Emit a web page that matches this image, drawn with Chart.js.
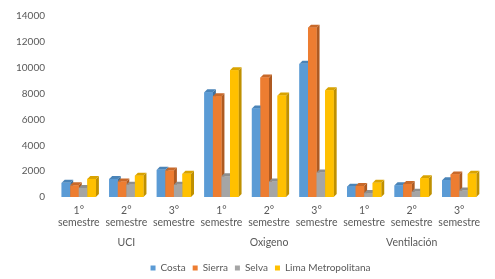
<!DOCTYPE html>
<html>
<head>
<meta charset="utf-8">
<script src="https://cdn.jsdelivr.net/npm/chart.js@4/dist/chart.umd.min.js"></script>
<style>
html,body{margin:0;padding:0;background:#fff;}
canvas{display:block;}
</style>
</head>
<body>
<canvas id="c" width="495" height="279"></canvas>
<script>
const categories = [["1°","semestre"],["2°","semestre"],["3°","semestre"],
                    ["1°","semestre"],["2°","semestre"],["3°","semestre"],
                    ["1°","semestre"],["2°","semestre"],["3°","semestre"]];
const groupLabels = ["", "UCI", "", "", "Oxigeno", "", "", "Ventilación", ""];
const seriesNames = ["Costa", "Sierra", "Selva", "Lima Metropolitana"];
const costa  = [1100, 1400, 2100, 8100, 6850, 10300, 800, 900, 1300];
const sierra = [900, 1200, 2050, 7800, 9250, 13100, 850, 1000, 1750];
const selva  = [700, 950, 950, 1600, 1200, 1900, 300, 400, 500];
const lima   = [1400, 1650, 1800, 9800, 7850, 8250, 1100, 1450, 1800];
const yTicks = [0, 2000, 4000, 6000, 8000, 10000, 12000, 14000];

const colors = ["#5B9BD5", "#ED7D31", "#A5A5A5", "#FFC000"];
const sideColors = ["#41719C", "#AE5A21", "#7C7C7C", "#BF9000"];
const topColors = ["#4A84B8", "#C8692A", "#8E8E8E", "#D9A300"];

const FONT = "Lato, 'Liberation Sans', sans-serif";
const TXT = "#595959";

const bars3d = {
  id: 'bars3d',
  afterDatasetsDraw(chart) {
    const ctx = chart.ctx;
    const dx = 3, dy = 3;
    const metas = chart.data.datasets.map((d, i) => chart.getDatasetMeta(i));
    const n = chart.data.labels.length;
    ctx.save();
    for (let j = 0; j < n; j++) {
      for (let i = 0; i < metas.length; i++) {
        const bar = metas[i].data[j];
        const p = bar.getProps(['x', 'y', 'base', 'width'], true);
        const l = p.x - p.width / 2, r = p.x + p.width / 2;
        ctx.fillStyle = sideColors[i];
        ctx.beginPath();
        ctx.moveTo(r, p.y); ctx.lineTo(r + dx, p.y - dy);
        ctx.lineTo(r + dx, p.base - dy); ctx.lineTo(r, p.base);
        ctx.closePath(); ctx.fill();
        ctx.fillStyle = topColors[i];
        ctx.beginPath();
        ctx.moveTo(l, p.y); ctx.lineTo(l + dx, p.y - dy);
        ctx.lineTo(r + dx, p.y - dy); ctx.lineTo(r, p.y);
        ctx.closePath(); ctx.fill();
        ctx.fillStyle = colors[i];
        ctx.fillRect(l, p.y, p.width, p.base - p.y);
      }
    }
    ctx.restore();
  }
};

const legendShift = {
  id: 'legendShift',
  afterLayout(chart) {
    if (chart.legend) { chart.legend.left += 19; chart.legend.right += 19; chart.legend.top -= 1; }
  }
};

const seriesData = [costa, sierra, selva, lima];
new Chart(document.getElementById('c'), {
  type: 'bar',
  data: {
    labels: categories,
    datasets: seriesNames.map((name, i) => ({
      label: name,
      data: seriesData[i],
      backgroundColor: colors[i],
      borderWidth: 0,
      categoryPercentage: 0.72,
      barPercentage: 1.0,
      xAxisID: 'x',
      yAxisID: 'y'
    }))
  },
  options: {
    responsive: false,
    animation: false,
    devicePixelRatio: 1,
    layout: { padding: { left: 0, right: 12, top: 10, bottom: -5 } },
    plugins: {
      legend: {
        position: 'bottom',
        labels: {
          boxWidth: 5, boxHeight: 5, padding: 7,
          color: TXT, font: { family: FONT, size: 10 }
        }
      },
      tooltip: { enabled: false }
    },
    scales: {
      y: {
        min: 0, max: 14000,
        afterBuildTicks(scale) { scale.ticks = yTicks.map(v => ({ value: v })); },
        afterFit(scale) { scale.width = 55; },
        grid: { display: false, drawTicks: false },
        border: { display: false },
        ticks: { padding: 10, color: TXT, font: { family: FONT, size: 10 },
                 callback: (v) => String(v) }
      },
      x: {
        position: 'bottom',
        weight: 0,
        grid: { display: false, drawTicks: false },
        border: { display: false },
        afterFit(scale) { scale.height = 38; },
        ticks: { padding: 7, maxRotation: 0, autoSkip: false, color: TXT,
                 font: { family: FONT, size: 10.5, lineHeight: 1.2 } }
      },
      x2: {
        type: 'category',
        position: 'bottom',
        weight: 1,
        labels: groupLabels,
        offset: true,
        grid: { display: false, drawTicks: false },
        border: { display: false },
        afterFit(scale) { scale.height = 22; },
        ticks: { padding: 1, maxRotation: 0, autoSkip: false, color: TXT,
                 font: { family: FONT, size: 10.5 } }
      }
    }
  },
  plugins: [bars3d, legendShift]
});
</script>
</body>
</html>
